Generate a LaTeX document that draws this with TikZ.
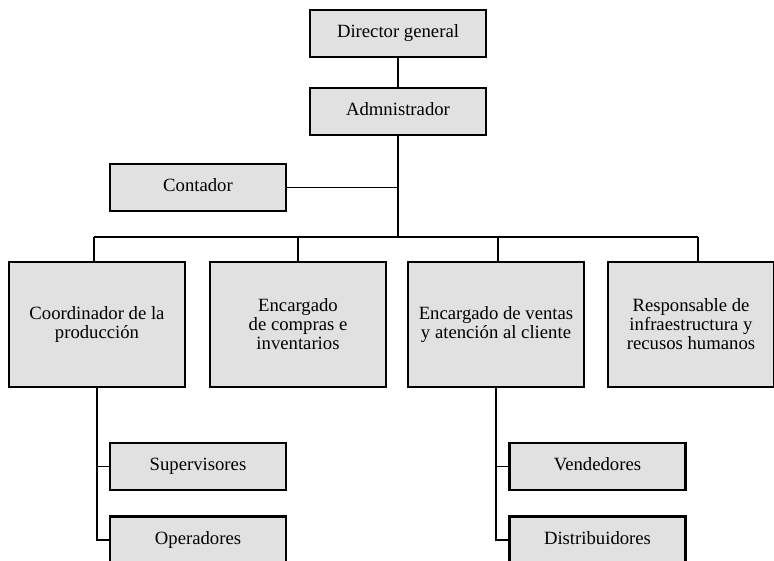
\documentclass[tikz,border=0pt]{standalone}
\usepackage{fontspec}
\setmainfont{Liberation Serif}
\definecolor{boxfill}{RGB}{225,225,225}
\begin{document}
\begin{tikzpicture}[x=1pt,y=-1pt,
  box/.style={draw=black, line width=2.1pt, fill=boxfill,
    minimum width=176pt, minimum height=47pt, inner sep=2pt,
    align=center, font=\fontsize{18.7}{19}\selectfont},
  small/.style={box, text height=12pt, text depth=4pt},
  big/.style={box, minimum height=125pt},
  link/.style={line width=1.9pt}]
\useasboundingbox (0,0) rectangle (774,561);

% top of the chart
\node[small] (dir)  at (398,33.5)  {Director general};
\node[small] (adm)  at (398,111.5) {Admnistrador};
\node[small] (cont) at (198,187.5) {Contador};

% second level
\node[big] (coord) at (97,324.5)  {Coordinador de la\\producción};
\node[big] (comp)  at (298,324.5) {Encargado\\de compras e\\inventarios};
\node[big] (vent)  at (496,324.5) {Encargado de ventas\\y atención al cliente};
\node[big, minimum width=166pt] (resp) at (691,324.5) {Responsable de\\infraestructura y\\recusos humanos};

% third level
\node[small] (sup)  at (198,466.5)  {Supervisores};
\node[small] (op)   at (198,540)    {Operadores};
\node[small] (vend) at (597.5,466.5) {Vendedores};
\node[small] (dist) at (597.5,540)   {Distribuidores};

% bus joining the second level
\coordinate (bus) at (398,237);
\coordinate (b1) at (94,237);
\coordinate (b2) at (298,237);
\coordinate (b3) at (498,237);
\coordinate (b4) at (698,237);

\draw[link] (dir) -- (adm);
\draw[link] (adm.south) -- (bus);
\draw[link] (cont.east) -- (cont.east -| bus);
\draw[link] (b1) -- (b4);
\draw[link] (b1) -- (b1 |- coord.north);
\draw[link] (b2) -- (b2 |- comp.north);
\draw[link] (b3) -- (b3 |- vent.north);
\draw[link] (b4) -- (b4 |- resp.north);

% branches below
\draw[link] (coord.south) -- (coord.south |- op.west) -- (op.west);
\draw[link] (coord.south |- sup.west) -- (sup.west);
\draw[link] (vent.south) -- (vent.south |- dist.west) -- (dist.west);
\draw[link] (vent.south |- vend.west) -- (vend.west);
\end{tikzpicture}
\end{document}
